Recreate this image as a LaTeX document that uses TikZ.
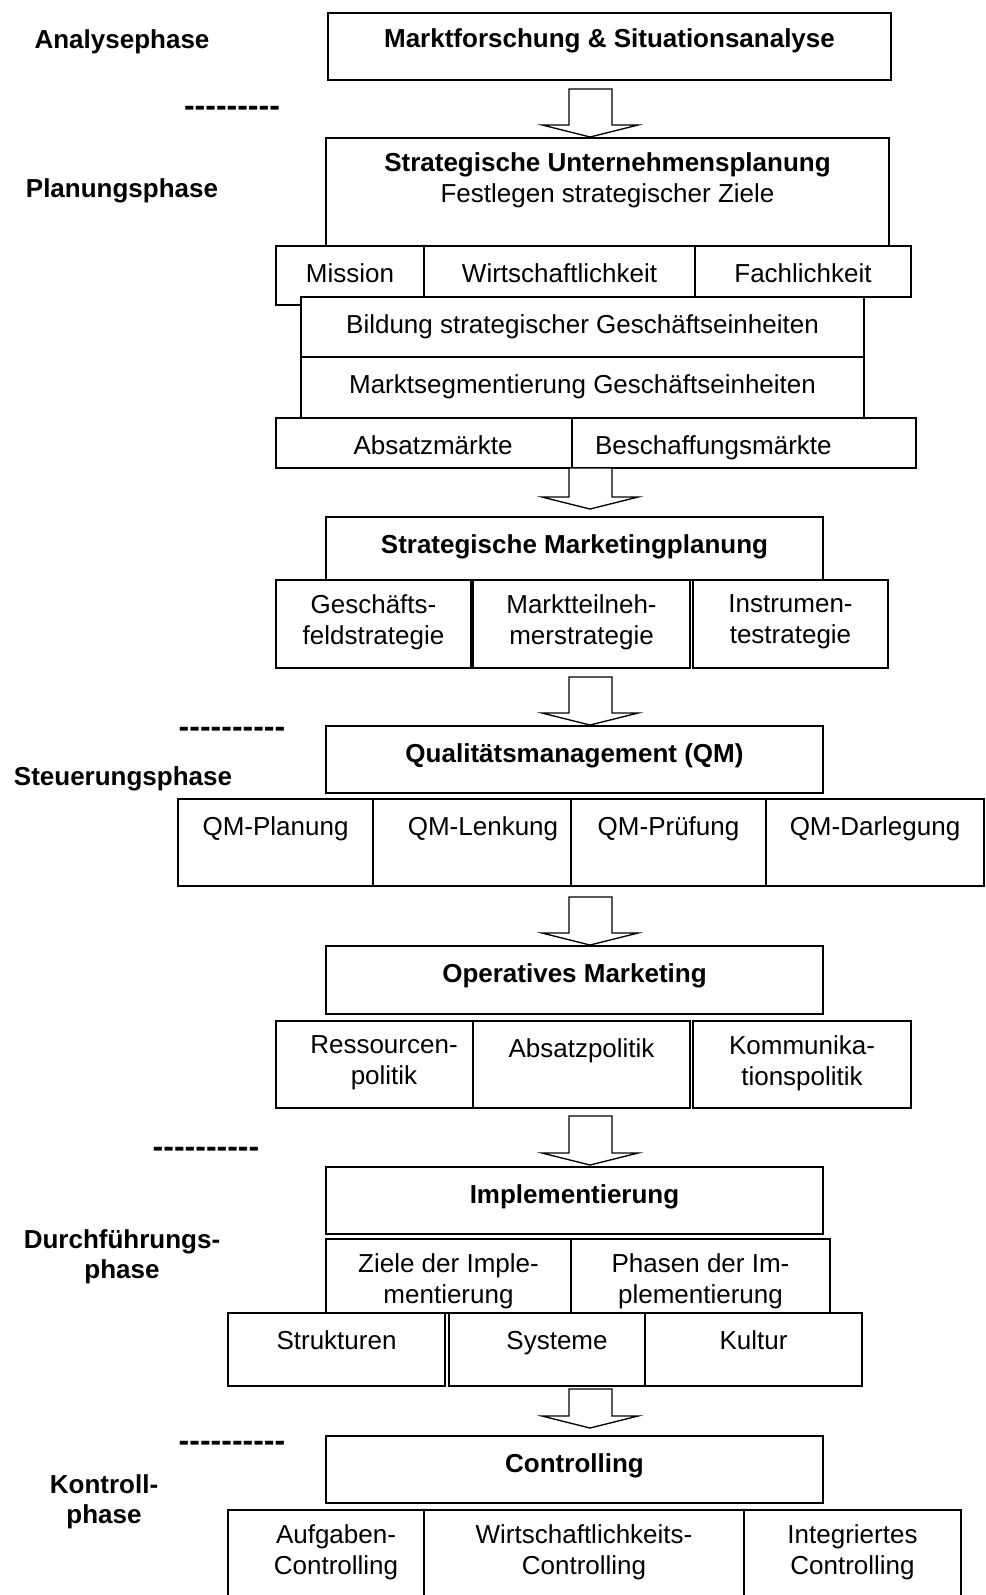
\documentclass[tikz,border=0pt]{standalone}
\usepackage{fontspec}
\setmainfont{Liberation Sans}
\newfontfamily\dashfont{Liberation Sans}
\usetikzlibrary{positioning,fit,calc}

\tikzset{
  box/.style={draw, fill=white, line width=1.1pt, inner sep=0pt, outer sep=0pt},
  txt/.style={align=center, inner sep=0pt, font=\fontsize{19.5}{22.9}\selectfont,
    execute at begin node={\rule{0pt}{16pt}}},
  head/.style={txt, font=\fontsize{19.5}{22.9}\selectfont\bfseries},
  phase/.style={head, anchor=north},
  sep/.style={inner sep=0pt, anchor=base, font=\fontsize{24}{28}\selectfont\dashfont\bfseries},
  blk/.style={draw, fill=white, line width=1pt, line join=miter}
}

\begin{document}
\begin{tikzpicture}[x=0.75pt, y=-0.75pt]
  \path[use as bounding box, clip] (0,0) rectangle (985,1595);

  % phases
  \node[phase] (p1) at (122,27)   {Analysephase};
  \node[phase] (p2) at (122,176)  {Planungsphase};
  \node[phase] (p3) at (123,764)  {Steuerungsphase};
  \node[phase] (p4) at (122,1229) {Durchführungs-\\phase};
  \node[phase] (p5) at (104,1474) {Kontroll-\\phase};

  \node[sep] (d1) at (232,116)  {---------};
  \node[sep] (d2) at (232,737)  {----------};
  \node[sep] (d3) at (206,1157) {----------};
  \node[sep] (d4) at (232,1451) {----------};

  % analyse
  \node[box, fit={(328,13) (891,80)}] (b1) {};
  \node[head, below=10pt of b1.north] (t1) {Marktforschung \& Situationsanalyse};

  % strategische Unternehmensplanung
  \node[box, fit={(326,138) (889,246)}] (b2) {};
  \node[txt, below=11pt of b2.north] (t2) {\textbf{Strategische Unternehmensplanung}\\Festlegen strategischer Ziele};

  \node[box, fit={(276,246) (424,305)}] (mis) {};
  \node[txt, below=11pt of mis.north] (tmis) {Mission};
  \node[box, fit={(424,246) (695,297)}] (wir) {};
  \node[txt, below=11pt of wir.north] (twir) {Wirtschaftlichkeit};
  \node[box, fit={(695,246) (911,297)}] (fac) {};
  \node[txt, below=11pt of fac.north] (tfac) {Fachlichkeit};

  \node[box, fit={(301,297) (864,357)}] (bil) {};
  \node[txt, below=11pt of bil.north] (tbil) {Bildung strategischer Geschäftseinheiten};
  \node[box, fit={(301,357) (864,418)}] (seg) {};
  \node[txt, below=11pt of seg.north] (tseg) {Marktsegmentierung Geschäftseinheiten};

  \node[box, fit={(276,418) (590,468)}] (abs) {};
  \node[txt, below=11pt of abs.north] (tabs) {Absatzmärkte};
  \node[box, fit={(572,418) (916,468)}] (bes) {};
  \node[txt, below=11pt of bes.north, xshift=-23pt] (tbes) {Beschaffungsmärkte};

  % strategische Marketingplanung
  \node[box, fit={(326,517) (823,580)}] (b3) {};
  \node[head, below=11pt of b3.north] (t3) {Strategische Marketingplanung};

  \node[box, fit={(276,580) (471,668)}] (ges) {};
  \node[txt, below=11pt of ges.north] (tges) {Geschäfts-\\feldstrategie};
  \node[box, fit={(473,580) (690,668)}] (mar) {};
  \node[txt, below=11pt of mar.north] (tmar) {Marktteilneh-\\merstrategie};
  \node[box, fit={(693,580) (888,668)}] (ins) {};
  \node[txt, below=11pt of ins.north] (tins) {Instrumen-\\testrategie};

  % QM
  \node[box, fit={(326,726) (823,793)}] (b4) {};
  \node[head, below=11pt of b4.north] (t4) {Qualitätsmanagement (QM)};

  \node[box, fit={(178,799) (373,886)}] (qpl) {};
  \node[txt, below=11pt of qpl.north] (tqpl) {QM-Planung};
  \node[box, fit={(373,799) (593,886)}] (qle) {};
  \node[txt, below=11pt of qle.north] (tqle) {QM-Lenkung};
  \node[box, fit={(571,799) (766,886)}] (qpr) {};
  \node[txt, below=11pt of qpr.north] (tqpr) {QM-Prüfung};
  \node[box, fit={(766,799) (984,886)}] (qda) {};
  \node[txt, below=11pt of qda.north] (tqda) {QM-Darlegung};

  % operatives Marketing
  \node[box, fit={(326,946) (823,1014)}] (b5) {};
  \node[head, below=11pt of b5.north] (t5) {Operatives Marketing};

  \node[box, fit={(276,1021) (492,1108)}] (res) {};
  \node[txt, below=11pt of res.north] (tres) {Ressourcen-\\politik};
  \node[box, fit={(473,1021) (690,1108)}] (apo) {};
  \node[txt, below=11pt of apo.north] (tapo) {Absatzpolitik};
  \node[box, fit={(693,1021) (911,1108)}] (kom) {};
  \node[txt, below=11pt of kom.north] (tkom) {Kommunika-\\tionspolitik};

  % Implementierung
  \node[box, fit={(326,1167) (823,1234)}] (b6) {};
  \node[head, below=11pt of b6.north] (t6) {Implementierung};

  \node[box, fit={(326,1239) (571,1313)}] (zie) {};
  \node[txt, below=11pt of zie.north] (tzie) {Ziele der Imple-\\mentierung};
  \node[box, fit={(571,1239) (830,1313)}] (pha) {};
  \node[txt, below=11pt of pha.north] (tpha) {Phasen der Im-\\plementierung};

  \node[box, fit={(228,1313) (445,1386)}] (str) {};
  \node[txt, below=11pt of str.north] (tstr) {Strukturen};
  \node[box, fit={(449,1313) (665,1386)}] (sys) {};
  \node[txt, below=11pt of sys.north] (tsys) {Systeme};
  \node[box, fit={(645,1313) (862,1386)}] (kul) {};
  \node[txt, below=11pt of kul.north] (tkul) {Kultur};

  % Controlling
  \node[box, fit={(326,1436) (823,1503)}] (b7) {};
  \node[head, below=11pt of b7.north] (t7) {Controlling};

  \node[box, fit={(228,1510) (444,1620)}] (auf) {};
  \node[txt, below=11pt of auf.north] (tauf) {Aufgaben-\\Controlling};
  \node[box, fit={(424,1510) (744,1620)}] (wco) {};
  \node[txt, below=11pt of wco.north] (twco) {Wirtschaftlichkeits-\\Controlling};
  \node[box, fit={(744,1510) (961,1620)}] (int) {};
  \node[txt, below=11pt of int.north] (tint) {Integriertes\\Controlling};

  % block arrows
  \coordinate (s1) at (590,89);   \coordinate (e1) at (590,137);
  \coordinate (s2) at (590,468);  \coordinate (e2) at (590,509);
  \coordinate (s3) at (590,677);  \coordinate (e3) at (590,725);
  \coordinate (s4) at (590,897);  \coordinate (e4) at (590,945);
  \coordinate (s5) at (590,1116); \coordinate (e5) at (590,1165);
  \coordinate (s6) at (590,1389); \coordinate (e6) at (590,1428);

  \draw[blk] ($(s1)+(-21,0)$) |- ($(e1)+(-48,-12)$) -- (e1) -- ++(48,-12) -| ($(s1)+(22,0)$) -- cycle;
  \draw[blk] ($(s2)+(-21,0)$) |- ($(e2)+(-48,-12)$) -- (e2) -- ++(48,-12) -| ($(s2)+(22,0)$) -- cycle;
  \draw[blk] ($(s3)+(-21,0)$) |- ($(e3)+(-48,-12)$) -- (e3) -- ++(48,-12) -| ($(s3)+(22,0)$) -- cycle;
  \draw[blk] ($(s4)+(-21,0)$) |- ($(e4)+(-48,-12)$) -- (e4) -- ++(48,-12) -| ($(s4)+(22,0)$) -- cycle;
  \draw[blk] ($(s5)+(-21,0)$) |- ($(e5)+(-48,-12)$) -- (e5) -- ++(48,-12) -| ($(s5)+(22,0)$) -- cycle;
  \draw[blk] ($(s6)+(-21,0)$) |- ($(e6)+(-48,-12)$) -- (e6) -- ++(48,-12) -| ($(s6)+(22,0)$) -- cycle;

\end{tikzpicture}
\end{document}
